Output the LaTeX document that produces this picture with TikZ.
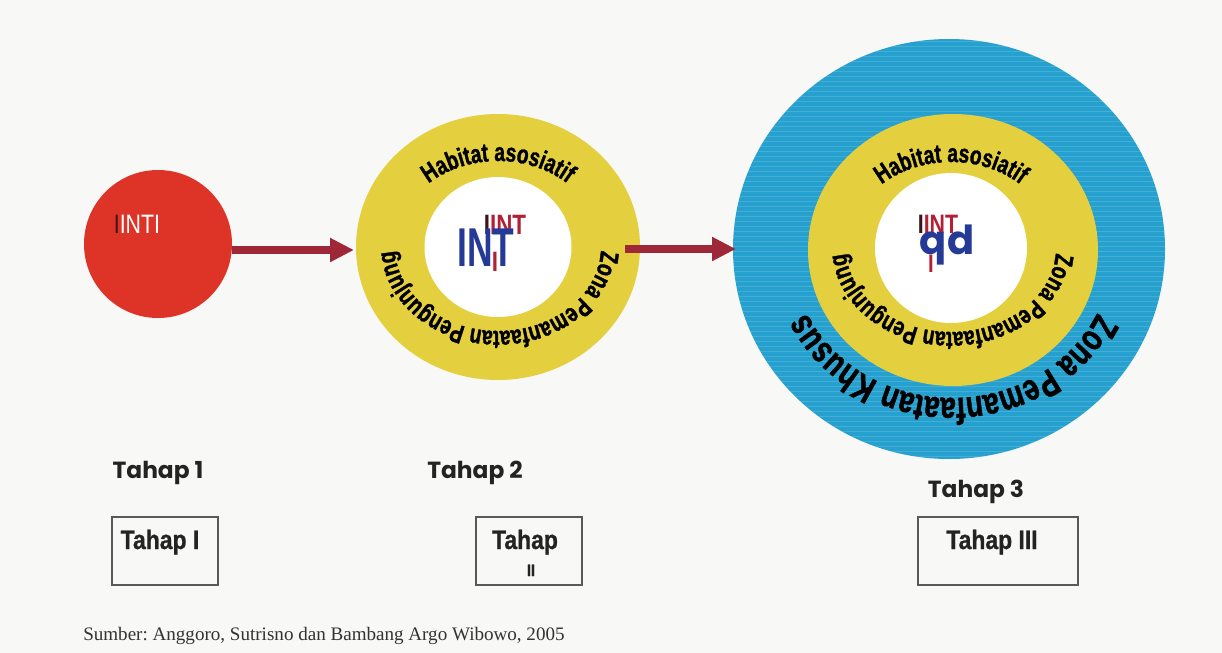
\documentclass[tikz,border=0pt]{standalone}
\usepackage{fontspec}
\setmainfont{Liberation Serif}
\newfontfamily\ringfont{Liberation Sans}[FakeStretch=0.74, BoldFeatures={FakeBold=1.3}]
\newfontfamily\corefont{Liberation Sans}[FakeStretch=0.8]
\newfontfamily\boxfont{Liberation Sans}[FakeStretch=0.86, BoldFeatures={FakeBold=0.8}]
\newfontfamily\gothic{Poppins}
\usetikzlibrary{arrows.meta, decorations.text, shapes.geometric}

\definecolor{paper}{RGB}{248,248,246}
\definecolor{corered}{RGB}{222,52,40}
\definecolor{ringyellow}{RGB}{228,208,62}
\definecolor{ringblue}{RGB}{38,160,206}
\definecolor{arrowred}{RGB}{158,40,55}
\definecolor{inkred}{RGB}{178,32,52}
\definecolor{inkblue}{RGB}{36,58,150}
\definecolor{inkdark}{RGB}{60,20,25}
\definecolor{labelink}{RGB}{35,35,35}

\tikzset{
  zone/.style={ellipse, inner sep=0pt, outer sep=0pt},
  flow/.style={draw=arrowred, line width=6pt, -{Triangle[length=18pt, width=17pt]}},
  stagelabel/.style={font=\gothic\bfseries\fontsize{17.5}{20}\selectfont, text=labelink, anchor=base, inner sep=0pt},
  stagebox/.style={draw=black!65, line width=0.9pt, minimum width=79.5pt, minimum height=51pt, inner sep=0pt},
  boxtext/.style={font=\boxfont\bfseries\fontsize{20}{22}\selectfont, text=labelink, anchor=base, inner sep=0pt},
  ringtext/.style={decorate, decoration={text along path, text align=center, text={#1}}},
}

\begin{document}
\frenchspacing
\begin{tikzpicture}[x=0.75pt, y=0.75pt]
  % paper
  \fill[paper] (0,0) rectangle (1222,-653);
  \useasboundingbox (0,0) rectangle (1222,-653);

  % ---------- Stage 1: core ----------
  \node[zone, fill=corered, minimum width=111pt, minimum height=111pt] (s1) at (158,-244) {};
  \node[font=\corefont\fontsize{20}{20}\selectfont, text=white, inner sep=0pt] (core1) at (137,-224)
    {\textcolor{inkdark}{I}INTI};

  % ---------- Stage 2: core + associated habitat ----------
  \node[zone, fill=ringyellow, minimum width=213pt, minimum height=199.5pt] (s2) at (498,-247) {};
  \node[zone, fill=white, minimum width=110.25pt, minimum height=105pt] (w2) at (498,-247) {};
  \path[ringtext={|\ringfont\bfseries\fontsize{19.5}{20}\selectfont|Habitat asosiatif}]
    (498,-247) ++(180:103 and 86) arc[start angle=180, end angle=0, x radius=103, y radius=86];
  \path[ringtext={|\ringfont\bfseries\fontsize{19.5}{20}\selectfont|Zona Pemanfaatan Pengunjung}]
    (498,-247) ++(0:103 and 84) arc[start angle=0, end angle=-180, x radius=103, y radius=84];
  \node[font=\corefont\bfseries\fontsize{21}{21}\selectfont, text=inkred, inner sep=0pt] (c2a) at (505,-225)
    {\textcolor{inkdark}{I}INT};
  \node[font=\corefont\bfseries\fontsize{21}{21}\selectfont, text=inkred, inner sep=0pt] (c2c) at (495,-262) {I};
  \node[font=\corefont\bfseries\fontsize{41}{41}\selectfont, text=inkblue, inner sep=0pt] (c2b) at (486,-248)
    {\scalebox{0.81}[1]{INT}};

  % ---------- Stage 3: core + habitat + special zone ----------
  \node[zone, fill=ringblue, minimum width=324pt, minimum height=315pt] (s3) at (949,-249) {};
  \begin{scope}
    \clip (949,-249) ellipse [x radius=216, y radius=210];
    \foreach \yy in {36,41,...,466}
      \draw[white, opacity=0.14, line width=0.7pt] (730,-\yy) -- (1170,-\yy);
  \end{scope}
  \node[zone, fill=ringyellow, minimum width=217.5pt, minimum height=204pt] (y3) at (953,-250) {};
  \node[zone, fill=white, minimum width=114pt, minimum height=112.5pt] (w3) at (951,-248) {};
  \path[ringtext={|\ringfont\bfseries\fontsize{19.5}{20}\selectfont|Habitat asosiatif}]
    (951,-248) ++(180:103 and 86) arc[start angle=180, end angle=0, x radius=103, y radius=86];
  \path[ringtext={|\ringfont\bfseries\fontsize{19.5}{20}\selectfont|Zona Pemanfaatan Pengunjung}]
    (951,-248) ++(0:105 and 84) arc[start angle=0, end angle=-180, x radius=105, y radius=84];
  \path[ringtext={|\ringfont\bfseries\fontsize{28}{30}\selectfont|Zona Pemanfaatan Khusus}]
    (952,-252) ++(0:160 and 146) arc[start angle=0, end angle=-180, x radius=160, y radius=146];
  \node[font=\corefont\bfseries\fontsize{20}{20}\selectfont, text=inkred, inner sep=0pt] (c3a) at (938,-224)
    {\textcolor{inkdark}{I}INT};
  \node[font=\corefont\bfseries\fontsize{19}{19}\selectfont, text=inkred, inner sep=0pt] (c3c) at (931,-264) {I};
  \node[font=\gothic\bfseries\fontsize{30}{30}\selectfont, text=inkblue, inner sep=0pt] (c3b) at (947,-245) {qd};

  % ---------- arrows between stages ----------
  \coordinate (a1s) at (232,-250);
  \coordinate (a1e) at (354,-250);
  \coordinate (a2s) at (625,-249);
  \coordinate (a2e) at (736,-249);
  \draw[flow] (a1s) -- (a1e);
  \draw[flow] (a2s) -- (a2e);

  % ---------- stage labels ----------
  \node[stagelabel] (l1) at (158,-478) {Tahap 1};
  \node[stagelabel] (l2) at (475,-478) {Tahap 2};
  \node[stagelabel] (l3) at (976,-497) {Tahap 3};

  % ---------- boxed stage names ----------
  \node[stagebox] (b1) at (165,-551) {};
  \node[stagebox] (b2) at (529,-551) {};
  \node[stagebox, minimum width=120pt] (b3) at (998,-551) {};
  \node[boxtext] (t1) at (160,-549) {Tahap I};
  \node[boxtext] (t2) at (525,-549) {Tahap};
  \node[boxtext, font=\boxfont\bfseries\fontsize{12.5}{14}\selectfont] (t2b) at (531,-576) {II};
  \node[boxtext] (t3) at (992,-549) {Tahap III};

  % ---------- source ----------
  \node[anchor=base west, inner sep=0pt, text=black!80, font=\fontsize{14.3}{16}\selectfont] (src) at (83,-640)
    {Sumber: Anggoro, Sutrisno dan Bambang Argo Wibowo, 2005};
\end{tikzpicture}
\end{document}
